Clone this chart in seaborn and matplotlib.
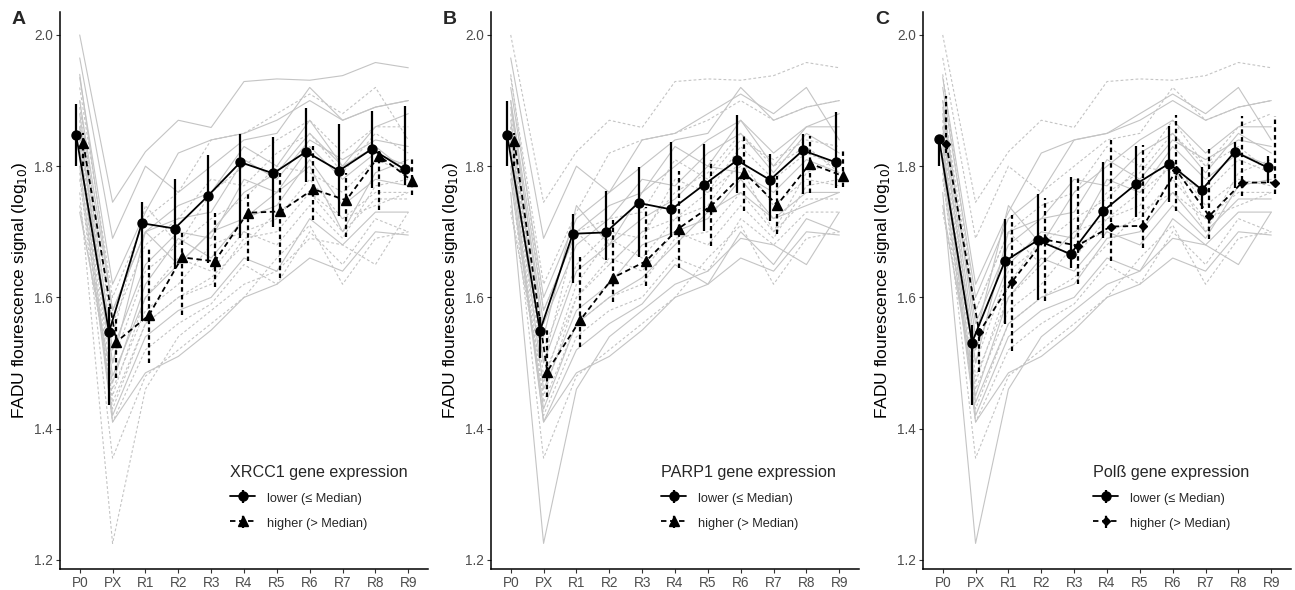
import numpy as np
import pandas as pd
import matplotlib
matplotlib.use("Agg")
import matplotlib.pyplot as plt
import seaborn as sns

# time points
timepoints = ["P0", "PX", "R1", "R2", "R3", "R4", "R5", "R6", "R7", "R8", "R9"]

# individual donor traces (log10 FADU signal)
donor_01 = [2.000, 1.745, 1.822, 1.870, 1.859, 1.929, 1.933, 1.931, 1.938, 1.958, 1.950]
donor_02 = [1.965, 1.690, 1.800, 1.760, 1.800, 1.840, 1.850, 1.920, 1.870, 1.890, 1.900]
donor_03 = [1.935, 1.620, 1.730, 1.820, 1.840, 1.850, 1.870, 1.900, 1.870, 1.890, 1.900]
donor_04 = [1.920, 1.600, 1.720, 1.760, 1.840, 1.850, 1.880, 1.910, 1.880, 1.920, 1.840]
donor_05 = [1.900, 1.580, 1.700, 1.740, 1.760, 1.830, 1.800, 1.870, 1.800, 1.860, 1.880]
donor_06 = [1.890, 1.560, 1.680, 1.720, 1.780, 1.770, 1.820, 1.850, 1.790, 1.850, 1.820]
donor_07 = [1.880, 1.520, 1.650, 1.700, 1.690, 1.780, 1.760, 1.830, 1.780, 1.820, 1.800]
donor_08 = [1.870, 1.500, 1.640, 1.680, 1.720, 1.750, 1.800, 1.790, 1.760, 1.810, 1.790]
donor_09 = [1.860, 1.480, 1.600, 1.650, 1.700, 1.720, 1.740, 1.810, 1.740, 1.780, 1.770]
donor_10 = [1.850, 1.460, 1.580, 1.620, 1.680, 1.700, 1.720, 1.780, 1.720, 1.760, 1.760]
donor_11 = [1.840, 1.440, 1.560, 1.600, 1.620, 1.690, 1.700, 1.760, 1.700, 1.750, 1.750]
donor_12 = [1.830, 1.420, 1.540, 1.580, 1.600, 1.660, 1.640, 1.720, 1.680, 1.730, 1.730]
donor_13 = [1.820, 1.410, 1.520, 1.560, 1.590, 1.650, 1.620, 1.700, 1.650, 1.720, 1.700]
donor_14 = [1.800, 1.410, 1.485, 1.510, 1.550, 1.600, 1.620, 1.660, 1.640, 1.700, 1.695]
donor_15 = [1.790, 1.355, 1.480, 1.520, 1.560, 1.600, 1.660, 1.710, 1.620, 1.690, 1.700]
donor_16 = [1.760, 1.225, 1.460, 1.540, 1.580, 1.620, 1.640, 1.690, 1.680, 1.650, 1.730]
donor_17 = [1.740, 1.450, 1.600, 1.660, 1.640, 1.700, 1.680, 1.740, 1.690, 1.770, 1.780]
donor_18 = [1.730, 1.470, 1.620, 1.690, 1.660, 1.720, 1.760, 1.800, 1.700, 1.790, 1.810]
donor_19 = [1.900, 1.540, 1.740, 1.680, 1.760, 1.800, 1.840, 1.870, 1.820, 1.860, 1.860]
donor_20 = [1.860, 1.500, 1.700, 1.720, 1.730, 1.810, 1.780, 1.840, 1.810, 1.840, 1.830]
donor_21 = [1.940, 1.580, 1.700, 1.650, 1.700, 1.760, 1.790, 1.850, 1.800, 1.830, 1.790]
donor_22 = [1.780, 1.430, 1.560, 1.600, 1.630, 1.680, 1.730, 1.760, 1.720, 1.740, 1.760]

donors = [donor_01, donor_02, donor_03, donor_04, donor_05, donor_06, donor_07, donor_08,
          donor_09, donor_10, donor_11, donor_12, donor_13, donor_14, donor_15, donor_16,
          donor_17, donor_18, donor_19, donor_20, donor_21, donor_22]

# donors in the "lower" expression group for each gene (1-based)
xrcc1_lower = [1, 2, 3, 5, 7, 9, 12, 14, 18, 20, 21]
parp1_lower = [2, 4, 5, 6, 8, 10, 13, 14, 16, 19, 22]
polb_lower = [3, 4, 6, 7, 11, 12, 14, 16, 17, 19, 20]

# group means with error bar limits -- XRCC1
xrcc1_low_mean = [1.848, 1.547, 1.713, 1.705, 1.754, 1.806, 1.789, 1.822, 1.793, 1.826, 1.795]
xrcc1_low_lo = [1.800, 1.436, 1.564, 1.643, 1.652, 1.691, 1.708, 1.776, 1.724, 1.767, 1.772]
xrcc1_low_hi = [1.895, 1.585, 1.746, 1.780, 1.817, 1.849, 1.844, 1.888, 1.864, 1.884, 1.892]
xrcc1_high_mean = [1.835, 1.532, 1.573, 1.661, 1.655, 1.729, 1.731, 1.765, 1.748, 1.816, 1.778]
xrcc1_high_lo = [1.800, 1.477, 1.500, 1.573, 1.616, 1.655, 1.630, 1.718, 1.692, 1.733, 1.756]
xrcc1_high_hi = [1.850, 1.570, 1.675, 1.698, 1.728, 1.760, 1.790, 1.831, 1.790, 1.828, 1.814]

# PARP1
parp1_low_mean = [1.848, 1.549, 1.697, 1.699, 1.744, 1.734, 1.772, 1.809, 1.779, 1.824, 1.806]
parp1_low_lo = [1.800, 1.508, 1.622, 1.657, 1.661, 1.692, 1.701, 1.759, 1.716, 1.758, 1.766]
parp1_low_hi = [1.900, 1.570, 1.727, 1.762, 1.798, 1.837, 1.834, 1.878, 1.818, 1.849, 1.883]
parp1_high_mean = [1.838, 1.487, 1.565, 1.630, 1.655, 1.705, 1.740, 1.790, 1.741, 1.804, 1.785]
parp1_high_lo = [1.800, 1.448, 1.524, 1.593, 1.618, 1.645, 1.678, 1.732, 1.696, 1.759, 1.768]
parp1_high_hi = [1.850, 1.552, 1.662, 1.718, 1.738, 1.793, 1.810, 1.846, 1.785, 1.846, 1.826]

# Polß
polb_low_mean = [1.841, 1.531, 1.655, 1.687, 1.666, 1.732, 1.773, 1.804, 1.764, 1.822, 1.798]
polb_low_lo = [1.800, 1.436, 1.559, 1.596, 1.645, 1.691, 1.722, 1.745, 1.734, 1.767, 1.774]
polb_low_hi = [1.848, 1.558, 1.720, 1.757, 1.783, 1.806, 1.830, 1.861, 1.799, 1.837, 1.816]
polb_high_mean = [1.834, 1.547, 1.624, 1.688, 1.679, 1.708, 1.709, 1.794, 1.724, 1.775, 1.775]
polb_high_lo = [1.820, 1.486, 1.518, 1.594, 1.621, 1.656, 1.675, 1.732, 1.689, 1.755, 1.757]
polb_high_hi = [1.907, 1.560, 1.726, 1.751, 1.785, 1.840, 1.832, 1.878, 1.828, 1.877, 1.877]

panel_letters = ["A", "B", "C"]
gene_names = ["XRCC1", "PARP1", "Polß"]
group_labels = ["lower (≤ Median)", "higher (> Median)"]

sns.set_theme(style="white")
plt.rcParams["font.family"] = ["Liberation Sans", "DejaVu Sans"]

fig = plt.figure(figsize=(12.95, 5.9), dpi=100)
ax_lefts = [60 / 1295, 491 / 1295, 923 / 1295]
ax_w = 368 / 1295
ax_b = 1 - 569 / 590
ax_h = (569 - 12) / 590

panels = [
    (xrcc1_lower, xrcc1_low_mean, xrcc1_low_lo, xrcc1_low_hi, xrcc1_high_mean, xrcc1_high_lo, xrcc1_high_hi, "^", 7.5),
    (parp1_lower, parp1_low_mean, parp1_low_lo, parp1_low_hi, parp1_high_mean, parp1_high_lo, parp1_high_hi, "^", 7.5),
    (polb_lower, polb_low_mean, polb_low_lo, polb_low_hi, polb_high_mean, polb_high_lo, polb_high_hi, "D", 4.5),
]

x = np.arange(len(timepoints))
dodge = 0.11

for i, (lower_ids, lm, llo, lhi, hm, hlo, hhi, hmark, hsize) in enumerate(panels):
    ax = fig.add_axes([ax_lefts[i], ax_b, ax_w, ax_h])

    # long table of donor traces
    rows = []
    for d, vals in enumerate(donors):
        grp = "lower" if (d + 1) in lower_ids else "higher"
        for t, v in enumerate(vals):
            rows.append({"donor": d, "time": t, "value": v, "group": grp})
    df = pd.DataFrame(rows)

    sns.lineplot(data=df, x="time", y="value", units="donor", estimator=None,
                 style="group", style_order=["lower", "higher"],
                 dashes={"lower": "", "higher": (2.5, 2)},
                 color="#c4c4c4", linewidth=0.8, legend=False, ax=ax)

    # group means with error bars
    lm, llo, lhi = np.array(lm), np.array(llo), np.array(lhi)
    hm, hlo, hhi = np.array(hm), np.array(hlo), np.array(hhi)
    eb1 = ax.errorbar(x - dodge, lm, yerr=[lm - llo, lhi - lm], color="black",
                      marker="o", markersize=6.5, linewidth=1.3, elinewidth=1.6,
                      capsize=0, label=group_labels[0], zorder=5)
    eb2 = ax.errorbar(x + dodge, hm, yerr=[hm - hlo, hhi - hm], color="black",
                      marker=hmark, markersize=hsize, linewidth=1.3, elinewidth=1.6,
                      linestyle=(0, (3, 2)), capsize=0, label=group_labels[1], zorder=5)
    eb2[2][0].set_linestyle((0, (2, 1.5)))

    ax.set_xlim(-0.6, 10.6)
    ax.set_ylim(1.186, 2.035)
    ax.set_xticks(x)
    ax.set_xticklabels(timepoints)
    ax.set_yticks([1.2, 1.4, 1.6, 1.8, 2.0])
    ax.set_yticklabels(["1.2", "1.4", "1.6", "1.8", "2.0"])
    ax.tick_params(axis="both", labelsize=9.8, colors="#333333", labelcolor="#4d4d4d",
                   length=3, width=0.8, direction="out", bottom=True, left=True, pad=2)
    ax.set_xlabel("")
    ax.set_ylabel("FADU flourescence signal (log$_{10}$)", fontsize=12.5, color="black", labelpad=4)
    sns.despine(ax=ax)
    for s in ["left", "bottom"]:
        ax.spines[s].set_color("black")
        ax.spines[s].set_linewidth(1.1)
    ax.grid(False)

    leg = ax.legend(handles=[eb1, eb2], title=gene_names[i] + " gene expression",
                    loc="lower left", bbox_to_anchor=(0.43, 0.05), frameon=False,
                    fontsize=9.2, title_fontsize=11.6, alignment="left",
                    handlelength=2.0, labelspacing=0.85, handletextpad=0.9,
                    handleheight=1.2)

    fig.text(ax_lefts[i] - 48 / 1295, 1 - 20 / 590, panel_letters[i], fontsize=14,
             fontweight="bold", ha="left", va="center")

fig.savefig("out.png", dpi=100)
